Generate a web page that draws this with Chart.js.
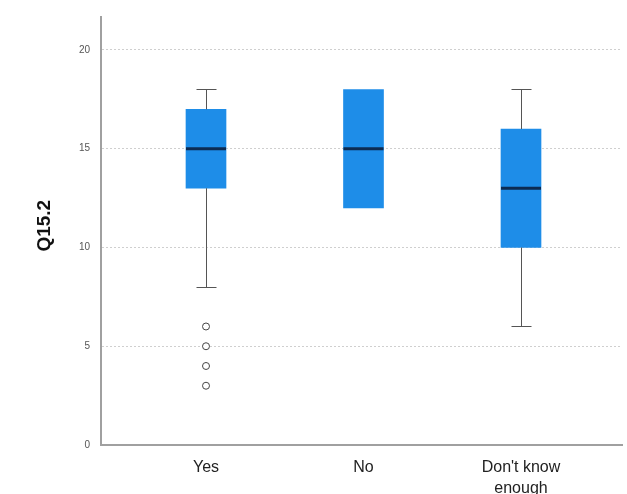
<!DOCTYPE html>
<html>
<head>
<meta charset="utf-8">
<script src="https://cdn.jsdelivr.net/npm/chart.js@4"></script>
<style>
  html, body { margin: 0; padding: 0; background: #fff; }
  #wrap { width: 627px; height: 494px; }
</style>
</head>
<body>
<div id="wrap"><canvas id="myChart"></canvas></div>
<script>
// categories and box plot statistics
const categories = ["Yes", "No", ["Don't know", "enough"]];
const positions = [1, 2, 3];
const whiskerLow = [8, 12, 6];
const q1 = [13, 12, 10];
const median = [15, 15, 13];
const q3 = [17, 18, 16];
const whiskerHigh = [18, 18, 18];
const outlierValues = [6, 5, 4, 3]; // outliers of "Yes"
const yTicks = [0, 5, 10, 15, 20];

const BOX_COLOR = "rgb(30, 141, 232)";
const MEDIAN_COLOR = "#0c2b52";
const WHISKER_COLOR = "#555";

// draws whiskers, caps and medians on top of the floating bars
const boxPlotPlugin = {
  id: "boxPlotPlugin",
  afterDatasetsDraw(chart) {
    const ctx = chart.ctx;
    const x = chart.scales.x;
    const y = chart.scales.y;
    const meta = chart.getDatasetMeta(0);
    ctx.save();
    positions.forEach((pos, i) => {
      const cx = Math.round(x.getPixelForValue(pos)) + 0.5;
      const bar = meta.data[i];
      const half = bar.width / 2;
      const capHalf = 10;

      ctx.strokeStyle = WHISKER_COLOR;
      ctx.lineWidth = 1;
      // upper whisker
      if (whiskerHigh[i] > q3[i]) {
        const top = Math.round(y.getPixelForValue(whiskerHigh[i])) + 0.5;
        ctx.beginPath();
        ctx.moveTo(cx, y.getPixelForValue(q3[i]));
        ctx.lineTo(cx, top);
        ctx.moveTo(cx - capHalf, top);
        ctx.lineTo(cx + capHalf, top);
        ctx.stroke();
      }
      // lower whisker
      if (whiskerLow[i] < q1[i]) {
        const bot = Math.round(y.getPixelForValue(whiskerLow[i])) + 0.5;
        ctx.beginPath();
        ctx.moveTo(cx, y.getPixelForValue(q1[i]));
        ctx.lineTo(cx, bot);
        ctx.moveTo(cx - capHalf, bot);
        ctx.lineTo(cx + capHalf, bot);
        ctx.stroke();
      }
      // median
      const my = y.getPixelForValue(median[i]);
      ctx.strokeStyle = MEDIAN_COLOR;
      ctx.lineWidth = 3;
      ctx.beginPath();
      ctx.moveTo(bar.x - half, my);
      ctx.lineTo(bar.x + half, my);
      ctx.stroke();
    });
    ctx.restore();
  },
};

const cfg = {
  type: "bar",
  data: {
    datasets: [
      {
        label: "Box",
        data: positions.map((pos, i) => ({ x: pos, y: [q1[i], q3[i]] })),
        backgroundColor: BOX_COLOR,
        borderWidth: 0,
        barThickness: 40,
      },
      {
        type: "scatter",
        label: "Outliers",
        data: outlierValues.map((v) => ({ x: positions[0], y: v })),
        pointStyle: "circle",
        pointRadius: 3.5,
        pointBorderWidth: 1,
        pointBorderColor: "#444",
        pointBackgroundColor: "#fff",
      },
    ],
  },
  options: {
    responsive: true,
    maintainAspectRatio: false,
    animation: false,
    layout: { padding: { left: 30, top: 5, right: 0, bottom: 0 } },
    plugins: {
      legend: { display: false },
      tooltip: { enabled: false },
    },
    scales: {
      x: {
        type: "linear",
        offset: false,
        min: 1 - 105 / 157.5,
        max: 1 - 105 / 157.5 + 521 / 157.5,
        afterBuildTicks: (s) => {
          s.ticks = positions.map((v) => ({ value: v }));
        },
        afterFit: (s) => {
          s.height = 49;
        },
        grid: { display: false, drawTicks: false },
        border: { display: true, color: "#a0a0a0", width: 2 },
        ticks: {
          padding: 12,
          autoSkip: false,
          maxRotation: 0,
          color: "#222",
          font: { family: "Liberation Sans", size: 16, lineHeight: 1.3 },
          callback: (v) => categories[positions.indexOf(v)],
        },
      },
      y: {
        min: 0,
        max: 21.67,
        afterBuildTicks: (s) => {
          s.ticks = yTicks.map((v) => ({ value: v }));
        },
        afterFit: (s) => {
          s.width = 71;
        },
        grid: {
          color: (c) => (c.tick && c.tick.value === 0 ? "rgba(0,0,0,0)" : "#cfcfcf"),
          lineWidth: 1,
          drawTicks: false,
        },
        border: { display: true, color: "#a0a0a0", width: 2, dash: [2, 2] },
        ticks: {
          padding: 11,
          color: "#555",
          font: { family: "Liberation Sans", size: 10 },
        },
        title: {
          display: true,
          text: "  Q15.2",
          color: "#111",
          padding: { top: 3, bottom: 0 },
          font: { family: "Liberation Sans", size: 19, weight: "bold" },
        },
      },
    },
  },
  plugins: [boxPlotPlugin],
};

new Chart(document.getElementById("myChart"), cfg);
</script>
</body>
</html>
